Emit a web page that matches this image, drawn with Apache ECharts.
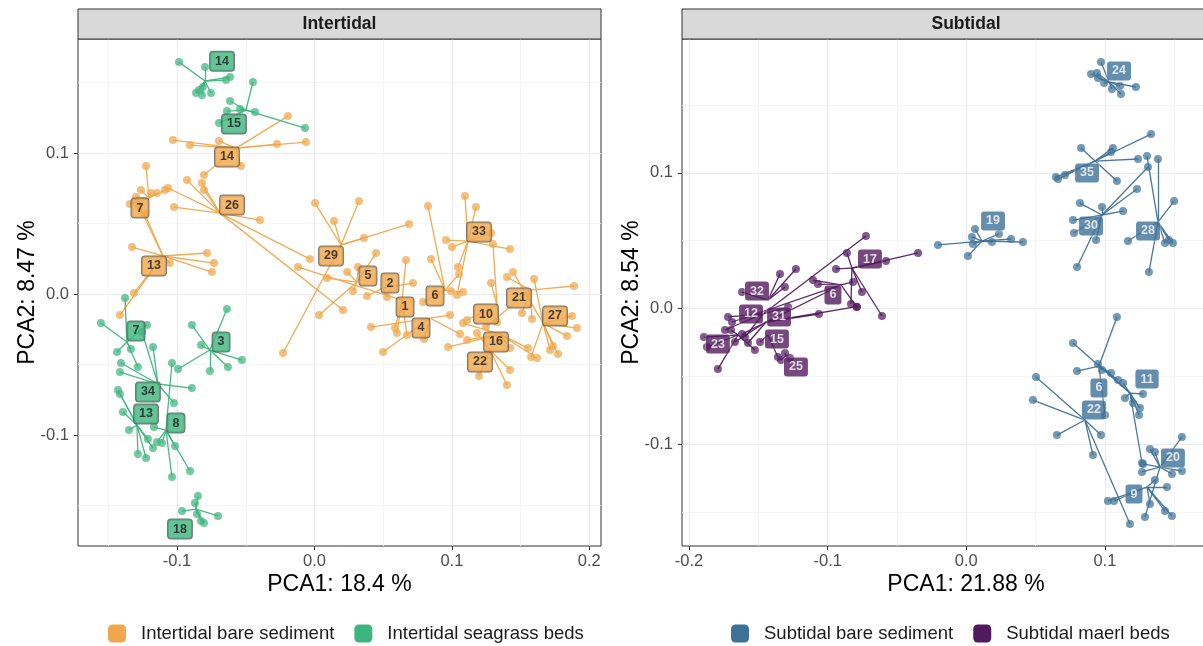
<!DOCTYPE html>
<html><head><meta charset="utf-8">
<script src="https://cdn.jsdelivr.net/npm/echarts@6/dist/echarts.min.js"></script>
<style>html,body{margin:0;padding:0;background:#fff}#c{width:1203px;height:646px}</style>
</head><body><div id="c"></div>
<script>
// ================= DATA =================
const panelTitles = ['Intertidal', 'Subtidal'];
const xTitles = ['PCA1: 18.4 %', 'PCA1: 21.88 %'];
const yTitles = ['PCA2: 8.47 %', 'PCA2: 8.54 %'];
const xTicksLeft = [-0.1, 0.0, 0.1, 0.2];
const yTicksLeft = [-0.1, 0.0, 0.1];
const xTicksRight = [-0.2, -0.1, 0.0, 0.1, 0.2];
const yTicksRight = [-0.1, 0.0, 0.1];
const xRangeLeft = [-0.1721, 0.2085];
const yRangeLeft = [-0.1787, 0.1809];
const xRangeRight = [-0.2051, 0.2047];
const yRangeRight = [-0.1752, 0.1987];
const groupNames = ['Intertidal bare sediment', 'Intertidal seagrass beds', 'Subtidal bare sediment', 'Subtidal maerl beds'];

// --- Intertidal bare sediment ---
const ibSites = ['14','26','7','13','29','5','2','1','4','6','33','10','21','27','16','22'];
const ibCentroids = [[-0.0571,0.1035],[-0.0688,0.0574],[-0.1205,0.0681],[-0.1103,0.0270],[0.0193,0.0348],[0.0309,0.0085],[0.0499,0.0043],[0.0637,-0.0043],[0.0841,-0.0170],[0.0950,0.0028],[0.1117,0.0376],[0.1328,-0.0078],[0.1568,0.0028],[0.1663,-0.0206],[0.1350,-0.0284],[0.1277,-0.0397]];
const ibLabelPos = [[-0.0637,0.0972],[-0.0600,0.0631],[-0.1270,0.0610],[-0.1168,0.0199],[0.0120,0.0270],[0.0389,0.0128],[0.0549,0.0078],[0.0659,-0.0092],[0.0775,-0.0241],[0.0877,-0.0014],[0.1197,0.0440],[0.1248,-0.0142],[0.1488,-0.0028],[0.1750,-0.0156],[0.1321,-0.0340],[0.1204,-0.0482]];
const ibPoints = [
  [[-0.1030,0.1092],[-0.0906,0.1057],[-0.0695,0.1085],[-0.0273,0.1064],[-0.0062,0.1078],[-0.0193,0.1262],[-0.0535,0.0908],[-0.0804,0.0844]],
  [[-0.0928,0.0809],[-0.0819,0.0787],[-0.0804,0.0738],[-0.1066,0.0752],[-0.1023,0.0617],[-0.0397,0.0525],[-0.0033,0.0248],[0.0207,-0.0113]],
  [[-0.1226,0.0908],[-0.1263,0.0738],[-0.1190,0.0716],[-0.1146,0.0716],[-0.1088,0.0738],[-0.1343,0.0638],[-0.1299,0.0688]],
  [[-0.0782,0.0291],[-0.0731,0.0220],[-0.0746,0.0156],[-0.1052,0.0220],[-0.1328,0.0333],[-0.1314,0.0007],[-0.1416,-0.0149],[-0.1277,0.0624],[-0.1234,0.0567]],
  [[0.0004,0.0645],[0.0324,0.0660],[0.0142,0.0518],[0.0688,0.0496],[0.0360,0.0397],[-0.0229,-0.0418]],
  [[0.0091,0.0113],[0.0237,0.0156],[0.0317,0.0191],[0.0448,0.0291],[0.0280,0.0021],[0.0033,-0.0149]],
  [[0.0528,-0.0021],[0.0717,0.0078],[0.0382,-0.0014]],
  [[-0.0120,0.0191],[0.0666,0.0241],[0.0586,-0.0241],[0.0600,-0.0277],[0.0673,-0.0291]],
  [[0.0411,-0.0234],[0.0499,-0.0411],[0.0797,-0.0319],[0.0986,-0.0149],[0.1059,-0.0284]],
  [[0.0826,0.0624],[0.0848,0.0248],[0.1052,0.0142],[0.1081,0.0014],[0.0993,0.0021],[0.0790,-0.0057]],
  [[0.1095,0.0695],[0.1175,0.0617],[0.0957,0.0383],[0.1001,0.0333],[0.1285,0.0433],[0.1423,0.0319],[0.1044,0.0191],[0.1037,-0.0007]],
  [[0.1299,0.0355],[0.1285,0.0078],[0.1328,-0.0199],[0.1110,-0.0184]],
  [[0.1401,0.0121],[0.1889,0.0057],[0.1510,-0.0135],[0.1583,-0.0177],[0.1248,-0.0234]],
  [[0.1445,0.0156],[0.1598,0.0106],[0.1874,-0.0156],[0.1910,-0.0241],[0.1838,-0.0298],[0.1772,-0.0426],[0.1714,-0.0397],[0.1736,-0.0369],[0.1576,-0.0447]],
  [[0.1554,-0.0383],[0.1619,-0.0454],[0.1081,-0.0206],[0.0972,-0.0376],[0.1110,-0.0326],[0.1423,-0.0383]],
  [[0.1423,-0.0539],[0.1401,-0.0645],[0.1197,-0.0582],[0.1183,-0.0277]]
];

// --- Intertidal seagrass beds ---
const igSites = ['14','15','18','3','7','34','13','8'];
const igCentroids = [[-0.0797,0.1511],[-0.0499,0.1305],[-0.0862,-0.1525],[-0.0761,-0.0397],[-0.1365,-0.0340],[-0.1139,-0.0638],[-0.1292,-0.0929],[-0.1081,-0.0965]];
const igLabelPos = [[-0.0673,0.1652],[-0.0586,0.1206],[-0.0979,-0.1667],[-0.0680,-0.0340],[-0.1299,-0.0262],[-0.1212,-0.0695],[-0.1226,-0.0851],[-0.1008,-0.0915]];
const igPoints = [
  [[-0.0986,0.1645],[-0.0797,0.1610],[-0.0615,0.1539],[-0.0644,0.1518],[-0.0862,0.1426],[-0.0819,0.1411],[-0.0753,0.1426],[-0.0841,0.1447],[-0.0812,0.1468]],
  [[-0.0448,0.1504],[-0.0615,0.1369],[-0.0637,0.1298],[-0.0433,0.1291],[-0.0069,0.1177],[-0.0695,0.1213],[-0.0542,0.1312]],
  [[-0.0848,-0.1433],[-0.0870,-0.1482],[-0.0964,-0.1539],[-0.0702,-0.1574],[-0.0804,-0.1624],[-0.0826,-0.1610],[-0.0855,-0.1560]],
  [[-0.0637,-0.0106],[-0.0892,-0.0220],[-0.0826,-0.0362],[-0.0528,-0.0468],[-0.0630,-0.0518],[-0.0761,-0.0546],[-0.0993,-0.0532]],
  [[-0.1554,-0.0206],[-0.1379,-0.0028],[-0.1219,-0.0220],[-0.1437,-0.0411],[-0.1336,-0.0390],[-0.1285,-0.0518]],
  [[-0.1175,-0.0376],[-0.1255,-0.0270],[-0.0892,-0.0667],[-0.1416,-0.0553],[-0.1023,-0.0773],[-0.1408,-0.0489]],
  [[-0.1430,-0.0681],[-0.1416,-0.0709],[-0.1394,-0.0837],[-0.1350,-0.0965],[-0.1285,-0.1135],[-0.1226,-0.1163],[-0.1212,-0.1028],[-0.1175,-0.1092]],
  [[-0.1037,-0.0489],[-0.1037,-0.1298],[-0.0906,-0.1255],[-0.1015,-0.1078],[-0.1146,-0.1050],[-0.1110,-0.1057],[-0.1168,-0.0943]]
];

// --- Subtidal bare sediment ---
const sbSites = ['24','35','30','28','19','6','11','22','20','9'];
const sbCentroids = [[0.1030,0.1670],[0.0929,0.1087],[0.0979,0.0689],[0.1383,0.0637],[0.0113,0.0497],[0.0957,-0.0425],[0.1181,-0.0624],[0.0856,-0.0823],[0.1398,-0.1170],[0.1304,-0.1317]];
const sbLabelPos = [[0.1102,0.1751],[0.0871,0.0999],[0.0900,0.0608],[0.1311,0.0571],[0.0193,0.0645],[0.0957,-0.0587],[0.1304,-0.0521],[0.0921,-0.0749],[0.1491,-0.1103],[0.1210,-0.1369]];
const sbPoints = [
  [[0.0972,0.1817],[0.0900,0.1729],[0.0943,0.1736],[0.0950,0.1699],[0.0994,0.1662],[0.1051,0.1618],[0.1116,0.1581],[0.1224,0.1633],[0.1109,0.1640]],
  [[0.0828,0.1183],[0.1058,0.1183],[0.1333,0.1286],[0.1239,0.1102],[0.1087,0.0940],[0.0647,0.0969],[0.0662,0.0954],[0.0712,0.0984],[0.1044,0.1153]],
  [[0.0820,0.0777],[0.0979,0.0748],[0.1131,0.0718],[0.1232,0.0881],[0.1311,0.1043],[0.0770,0.0652],[0.0777,0.0556],[0.0936,0.0504],[0.0799,0.0305]],
  [[0.1304,0.1124],[0.1383,0.1102],[0.1499,0.0792],[0.1167,0.0497],[0.1434,0.0482],[0.1491,0.0482],[0.1318,0.0268],[0.1462,0.0504]],
  [[0.0063,0.0586],[0.0041,0.0527],[0.0048,0.0475],[0.0012,0.0386],[0.0185,0.0490],[0.0236,0.0549],[0.0323,0.0512],[0.0409,0.0490],[-0.0204,0.0468]],
  [[0.1087,-0.0063],[0.0799,-0.0462],[0.1044,-0.0476],[0.0979,-0.0454],[0.1095,-0.0528],[0.1001,-0.0786]],
  [[0.0770,-0.0255],[0.1131,-0.0550],[0.1275,-0.0631],[0.1145,-0.0661],[0.1203,-0.0698],[0.1253,-0.0735],[0.1246,-0.0786],[0.1268,-0.1140],[0.0950,-0.0410]],
  [[0.0503,-0.0506],[0.0481,-0.0676],[0.0654,-0.0934],[0.0972,-0.0934],[0.0914,-0.1081],[0.1181,-0.1590]],
  [[0.1556,-0.0948],[0.1325,-0.1037],[0.1361,-0.1059],[0.1275,-0.1147],[0.1268,-0.1206],[0.1484,-0.1221],[0.1556,-0.1199],[0.1289,-0.1538]],
  [[0.1022,-0.1420],[0.1066,-0.1420],[0.1448,-0.1317],[0.1361,-0.1265],[0.1325,-0.1442],[0.1434,-0.1494],[0.1484,-0.1531]]
];

// --- Subtidal maerl beds ---
const smSites = ['17','6','32','12','31','23','15','25'];
const smCentroids = [[-0.0825,0.0298],[-0.0904,0.0173],[-0.1431,0.0062],[-0.1467,-0.0041],[-0.1445,-0.0100],[-0.1647,-0.0196],[-0.1431,-0.0196],[-0.1301,-0.0351]];
const smLabelPos = [[-0.0695,0.0364],[-0.0962,0.0099],[-0.1510,0.0128],[-0.1553,-0.0041],[-0.1351,-0.0063],[-0.1792,-0.0263],[-0.1366,-0.0226],[-0.1229,-0.0432]];
const smPoints = [
  [[-0.0348,0.0409],[-0.0579,0.0350],[-0.0861,0.0409],[-0.0940,0.0291],[-0.0608,-0.0056],[-0.0753,0.0121],[-0.0832,0.0032]],
  [[-0.1106,0.0209],[-0.1070,0.0180],[-0.0789,0.0010],[-0.0817,0.0195],[-0.1618,-0.0189],[-0.1690,-0.0100]],
  [[-0.1618,0.0121],[-0.1344,0.0254],[-0.1229,0.0291],[-0.1308,0.0158]],
  [[-0.0724,0.0534],[-0.1719,-0.0063],[-0.1741,-0.0159],[-0.1286,0.0010],[-0.1597,-0.0211]],
  [[-0.1063,-0.0041],[-0.0791,0.0013],[-0.1669,-0.0248],[-0.1575,-0.0255]],
  [[-0.1893,-0.0211],[-0.1871,-0.0285],[-0.1792,-0.0447],[-0.1698,-0.0159],[-0.1525,-0.0307]],
  [[-0.1359,-0.0358],[-0.1488,-0.0248]],
  [[-0.1308,-0.0329],[-0.1272,-0.0366],[-0.1337,-0.0381]]
];

// ================= CHART =================
const FONT = '"Liberation Sans", Arial, Helvetica, sans-serif';
const colors = ['#F0A64A', '#3DB57E', '#3E7198', '#521A5E'];

function buildGroup(name, color, sites, cents, labPos, pts, panel, textColor, borderColor) {
  const segs = [], dots = [];
  sites.forEach((s, i) => pts[i].forEach(p => { segs.push({ coords: [p, cents[i]] }); dots.push(p); }));
  return [
    { type: 'lines', name, coordinateSystem: 'cartesian2d', xAxisIndex: panel, yAxisIndex: panel,
      data: segs, polyline: false, silent: true, z: 2,
      lineStyle: { color, width: 1.3, opacity: 0.95 } },
    { type: 'scatter', name, xAxisIndex: panel, yAxisIndex: panel, data: dots, silent: true, z: 3,
      symbol: 'circle', symbolSize: 8, itemStyle: { color, opacity: 0.72 } },
    { type: 'scatter', name, xAxisIndex: panel, yAxisIndex: panel, silent: true, z: 5,
      data: sites.map((s, i) => ({ name: s, value: labPos[i] })),
      symbol: 'rect', symbolSize: 1, itemStyle: { color: 'rgba(0,0,0,0)' },
      label: { show: true, position: 'inside', formatter: '{b}', color: textColor,
        fontFamily: FONT, fontSize: 12.5, fontWeight: 'bold', lineHeight: 12,
        backgroundColor: color, borderColor, borderWidth: 1, borderRadius: 3, padding: [4, 5, 3, 5] } }
  ];
}

const series = [].concat(
  buildGroup(groupNames[0], colors[0], ibSites, ibCentroids, ibLabelPos, ibPoints, 0, '#1a1a1a', '#555555'),
  buildGroup(groupNames[1], colors[1], igSites, igCentroids, igLabelPos, igPoints, 0, '#1a1a1a', '#555555'),
  buildGroup(groupNames[2], colors[2], sbSites, sbCentroids, sbLabelPos, sbPoints, 1, '#ffffff', 'rgba(255,255,255,0.35)'),
  buildGroup(groupNames[3], colors[3], smSites, smCentroids, smLabelPos, smPoints, 1, '#ffffff', 'rgba(255,255,255,0.35)')
);

function mkAxis(gi, range, ticks, title, isY) {
  return {
    type: 'value', gridIndex: gi, min: range[0], max: range[1], splitNumber: 4,
    name: title, nameLocation: 'middle', nameGap: isY ? 39 : 27, nameRotate: isY ? 90 : 0, nameMoveOverlap: false,
    nameTextStyle: { fontFamily: FONT, fontSize: 23, color: '#000' },
    axisLine: { show: false, onZero: false },
    axisTick: { show: true, inside: false, length: 4, customValues: ticks, lineStyle: { color: '#333', width: 1 } },
    axisLabel: { show: true, customValues: ticks, margin: isY ? 9 : 7, fontFamily: FONT, fontSize: 16.5, color: '#4D4D4D',
      formatter: v => v.toFixed(1) },
    splitLine: { show: true, lineStyle: { color: '#EBEBEB', width: 1.2 } },
    minorTick: { show: false, splitNumber: 2 },
    minorSplitLine: { show: true, lineStyle: { color: '#F4F4F4', width: 0.8 } }
  };
}

const legendBase = { orient: 'horizontal', top: 624, padding: 0, itemWidth: 18, itemHeight: 18, itemGap: 20, selectedMode: false,
  textStyle: { fontFamily: FONT, fontSize: 18.5, color: '#1a1a1a', padding: [0, 0, 0, 10] } };

const option = {
  animation: false,
  backgroundColor: '#ffffff',
  grid: [
    { left: 78, top: 39, width: 523, height: 507, show: true, borderColor: '#333', borderWidth: 1, backgroundColor: 'transparent', containLabel: false, outerBoundsMode: 'none' },
    { left: 682, top: 39, width: 568, height: 507, show: true, borderColor: '#333', borderWidth: 1, backgroundColor: 'transparent', containLabel: false, outerBoundsMode: 'none' }
  ],
  xAxis: [mkAxis(0, xRangeLeft, xTicksLeft, xTitles[0], false), mkAxis(1, xRangeRight, xTicksRight, xTitles[1], false)],
  yAxis: [mkAxis(0, yRangeLeft, yTicksLeft, yTitles[0], true), mkAxis(1, yRangeRight, yTicksRight, yTitles[1], true)],
  legend: [
    Object.assign({}, legendBase, { left: 108,
      data: [groupNames[0], groupNames[1]].map((n, i) => ({ name: n, icon: 'roundRect', itemStyle: { color: colors[i], opacity: 1, borderWidth: 0 } })) }),
    Object.assign({}, legendBase, { left: 731,
      data: [groupNames[2], groupNames[3]].map((n, i) => ({ name: n, icon: 'roundRect', itemStyle: { color: colors[i + 2], opacity: 1, borderWidth: 0 } })) })
  ],
  graphic: [
    { type: 'rect', shape: { x: 78, y: 9, width: 523, height: 30 }, style: { fill: '#D9D9D9', stroke: '#333', lineWidth: 1 }, z: 10 },
    { type: 'text', x: 339.5, y: 24, style: { text: panelTitles[0], font: 'bold 17.5px ' + FONT, fill: '#1a1a1a', textAlign: 'center', textVerticalAlign: 'middle' }, z: 11 },
    { type: 'rect', shape: { x: 682, y: 9, width: 568, height: 30 }, style: { fill: '#D9D9D9', stroke: '#333', lineWidth: 1 }, z: 10 },
    { type: 'text', x: 966, y: 24, style: { text: panelTitles[1], font: 'bold 17.5px ' + FONT, fill: '#1a1a1a', textAlign: 'center', textVerticalAlign: 'middle' }, z: 11 }
  ],
  series
};

const chart = echarts.init(document.getElementById('c'), null, { renderer: 'canvas' });
chart.setOption(option);
</script>
</body></html>
